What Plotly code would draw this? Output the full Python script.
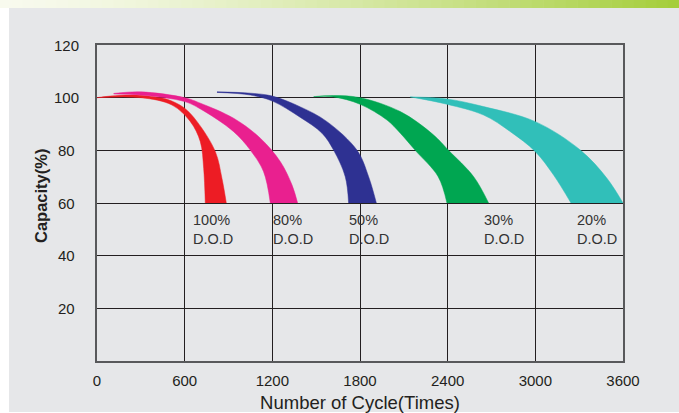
import plotly.graph_objects as go

W, H = 679, 413
ML, MR, MT, MB = 97, 56, 45, 52

# ---------------- data ----------------
x_ticks = [0, 600, 1200, 1800, 2400, 3000, 3600]
y_ticks = [20, 40, 60, 80, 100, 120]

dod_names = ["100%", "80%", "50%", "30%", "20%"]
dod_colors = ["#ed1c24", "#e9208f", "#2e3192", "#00a651", "#31bfb9"]
label_x = [645, 1191, 1711, 2635, 3274]

# 100% D.O.D band
d100_upper_x = [0, 90, 250, 410, 480, 595, 685, 810, 855, 885]
d100_upper_y = [100, 100.6, 101, 100.2, 99.4, 96.2, 90.9, 79.5, 69.4, 60]
d100_lower_x = [0, 300, 513, 639, 707, 730, 741]
d100_lower_y = [100, 100, 97.2, 90.9, 83.3, 73.2, 60]

# 80% D.O.D band
d80_upper_x = [114, 300, 600, 708, 935, 1118, 1255, 1335, 1373]
d80_upper_y = [101.6, 102.2, 100, 97.9, 92.2, 84.6, 75.7, 66.8, 60]
d80_lower_x = [114, 300, 600, 708, 935, 1049, 1140, 1186]
d80_lower_y = [101.4, 101, 98.5, 95.7, 87.1, 80.1, 71.9, 60]

# 50% D.O.D band
d50_upper_x = [821, 1050, 1200, 1392, 1574, 1780, 1859, 1912]
d50_upper_y = [102.2, 101.7, 100.6, 96.5, 90.9, 80, 70, 60]
d50_lower_x = [821, 1050, 1200, 1392, 1540, 1620, 1699, 1722]
d50_lower_y = [102, 101, 98.7, 92.5, 86.5, 80, 70, 60]

# 30% D.O.D band
d30_upper_x = [1483, 1619, 1800, 2076, 2300, 2406, 2578, 2680]
d30_upper_y = [100.4, 100.8, 100, 94.7, 86, 80, 70, 60]
d30_lower_x = [1483, 1619, 1800, 1985, 2076, 2178, 2335, 2395]
d30_lower_y = [100.4, 100.3, 97.5, 91.5, 86.5, 80, 70, 60]

# 20% D.O.D band
d20_upper_x = [2144, 2395, 2646, 3000, 3308, 3490, 3600]
d20_upper_y = [100.3, 99.5, 96.6, 90.9, 80.1, 69.4, 60]
d20_lower_x = [2144, 2395, 2646, 2829, 3000, 3125, 3244]
d20_lower_y = [100.3, 97.5, 93.4, 87.1, 79.5, 70.6, 60]

bands = [
    (d100_upper_x, d100_upper_y, d100_lower_x, d100_lower_y),
    (d80_upper_x, d80_upper_y, d80_lower_x, d80_lower_y),
    (d50_upper_x, d50_upper_y, d50_lower_x, d50_lower_y),
    (d30_upper_x, d30_upper_y, d30_lower_x, d30_lower_y),
    (d20_upper_x, d20_upper_y, d20_lower_x, d20_lower_y),
]

# ---------------- figure ----------------
fig = go.Figure()
for (ux, uy, lx, ly), name, col in zip(bands, dod_names, dod_colors):
    fig.add_trace(go.Scatter(
        x=lx, y=ly, mode="lines",
        line=dict(color=col, width=0.5, shape="spline", smoothing=1.0),
        hoverinfo="skip", showlegend=False,
    ))
    fig.add_trace(go.Scatter(
        x=ux, y=uy, mode="lines", fill="tonexty", fillcolor=col,
        line=dict(color=col, width=0.5, shape="spline", smoothing=1.0),
        name=name + " D.O.D", hoverinfo="skip", showlegend=False,
    ))

PW = W - ML - MR
PH = H - MT - MB


def pxx(px):
    return (px - ML) / PW


def pxy(py):
    return (H - MB - py) / PH


shapes = []
# grey panel
shapes.append(dict(type="rect", xref="paper", yref="paper", layer="below",
                   x0=pxx(9), x1=pxx(W + 2), y0=pxy(412), y1=pxy(8),
                   fillcolor="#e6e7e9", line=dict(width=0)))
# gradient banner at top
N = 60
c0 = (248, 250, 238)
c1 = (164, 205, 57)
for i in range(N):
    t = (i + 0.5) / N
    tt = t ** 1.4
    c = tuple(int(round(c0[k] + (c1[k] - c0[k]) * tt)) for k in range(3))
    shapes.append(dict(type="rect", xref="paper", yref="paper", layer="below",
                       x0=pxx(W * i / N), x1=pxx(W * (i + 1) / N + 0.6),
                       y0=pxy(8), y1=pxy(-1),
                       fillcolor="rgb(%d,%d,%d)" % c, line=dict(width=0)))

FONT = "Liberation Sans, Arial, sans-serif"

annotations = []
for name, lx in zip(dod_names, label_x):
    annotations.append(dict(
        x=lx, y=57.2, xref="x", yref="y", xanchor="left", yanchor="top",
        text=name + "<br>D.O.D", showarrow=False, align="left",
        font=dict(family=FONT, size=14.5, color="#333333"),
    ))

# y tick labels (centred, as in the reference)
for v in y_ticks:
    annotations.append(dict(
        x=pxx(66), y=v, xref="paper", yref="y", xanchor="center", yanchor="middle",
        text=str(v), showarrow=False,
        font=dict(family=FONT, size=15, color="#231f20"),
    ))

# y axis title
annotations.append(dict(
    x=pxx(41), y=pxy(196), xref="paper", yref="paper", xanchor="center", yanchor="middle",
    text="<b>Capacity(%)</b>", textangle=-90, showarrow=False,
    font=dict(family=FONT, size=16.5, color="#231f20"),
))

axis_font = dict(family=FONT, size=15, color="#231f20")

fig.update_layout(
    width=W, height=H,
    margin=dict(l=ML, r=MR, t=MT, b=MB, pad=0, autoexpand=False),
    paper_bgcolor="white",
    plot_bgcolor="#e6e7e9",
    shapes=shapes,
    annotations=annotations,
    showlegend=False,
    xaxis=dict(
        range=[0, 3600], tickvals=x_ticks, ticktext=[str(v) for v in x_ticks],
        showgrid=True, gridcolor="#231f20", gridwidth=1.2, zeroline=False,
        showline=True, linecolor="#58595b", linewidth=1.5, mirror=True,
        ticks="", ticklabelstandoff=5, tickfont=axis_font, automargin=False,
        title=dict(text="Number of Cycle(Times)", standoff=9,
                   font=dict(family=FONT, size=18.5, color="#231f20")),
        fixedrange=True, layer="above traces",
    ),
    yaxis=dict(
        range=[0, 120], tickvals=y_ticks, showticklabels=False,
        showgrid=True, gridcolor="#231f20", gridwidth=1.2, zeroline=False,
        showline=True, linecolor="#58595b", linewidth=1.5, mirror=True,
        ticks="", automargin=False,
        fixedrange=True, layer="above traces",
    ),
)

fig.write_html("out.html", config={"displayModeBar": False},
               post_script="document.body.style.margin='0';document.body.style.padding='0';")
